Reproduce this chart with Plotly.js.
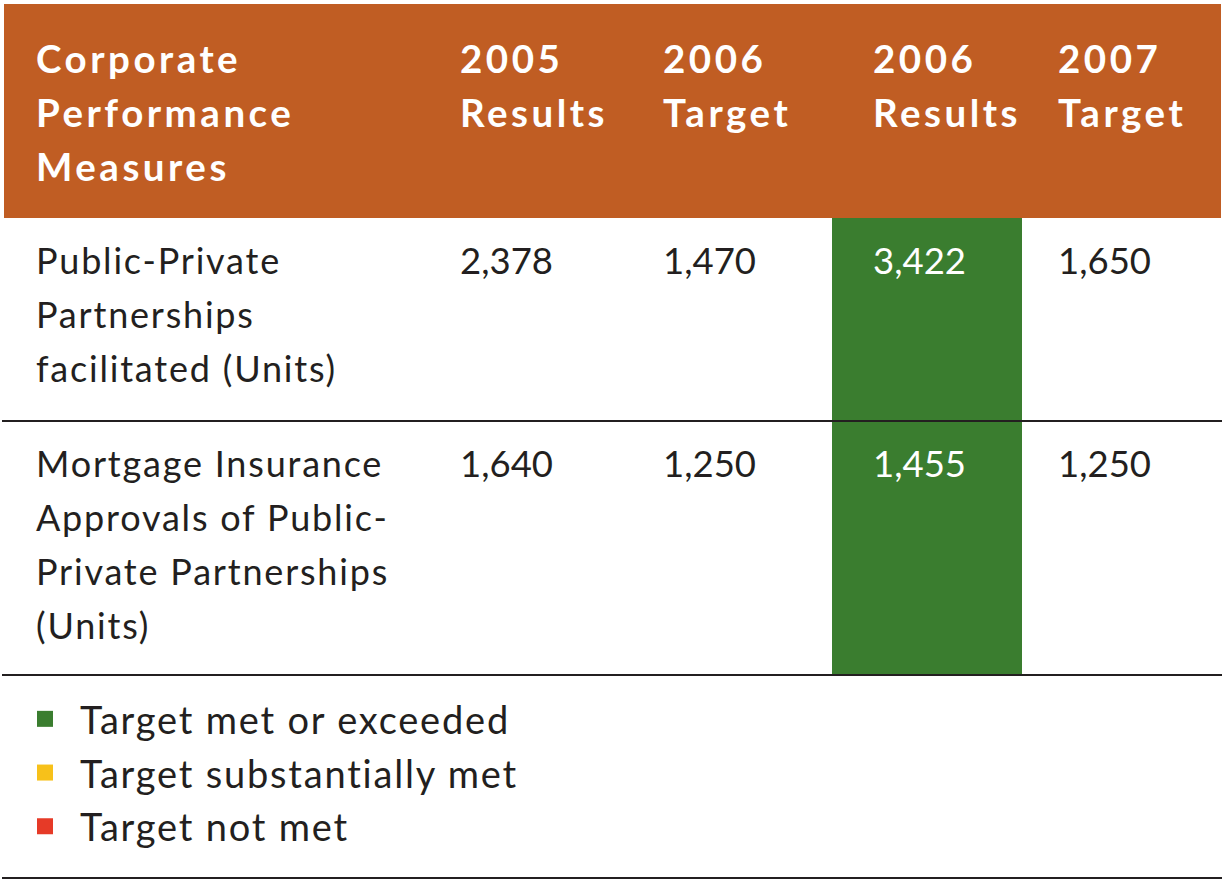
<!DOCTYPE html>
<html><head><meta charset="utf-8">
<script src="https://cdn.plot.ly/plotly-3.0.1.min.js"></script>
<style>html,body{margin:0;padding:0;background:#fff}</style>
</head><body><div id="chart" style="width:1223px;height:882px"></div>
<script>
// ---- data ----
const headerLabels = [["Corporate","Performance","Measures"],["2005","Results"],["2006","Target"],["2006","Results"],["2007","Target"]];
const measures = [["Public-Private","Partnerships","facilitated (Units)"],["Mortgage Insurance","Approvals of Public-","Private Partnerships","(Units)"]];
const results2005 = ["2,378","1,640"];
const target2006 = ["1,470","1,250"];
const results2006 = ["3,422","1,455"];
const target2007 = ["1,650","1,250"];
const status2006 = [0, 0]; // index into legendLabels
const legendLabels = ["Target met or exceeded","Target substantially met","Target not met"];

// ---- style ----
const W = 1223, H = 882;
const ORANGE = '#c05d23', INK = '#231f20', CLEAR = 'rgba(0,0,0,0)';
const statusColors = ['#3a7d2f','#f7c11a','#e63a27'];
const FONT = 'Lato';
const lineBase = 41.5;                 // sets 54px line spacing
const headerHeight = 214, rowHeights = [203, 254];
const headTop = 62, bodyTop = 48.5;    // first-line ascent struts
const nb = '\u00A0';
const strut = px => `<span style="font-size:${px}px">${nb}</span>`;
const headCell = lines => lines.map((l, i) =>
  `<span style="font-size:38.5px;letter-spacing:3.5px">${l}</span>` + (i === 0 ? strut(headTop) : '')).join('<br>');
const textCell = lines => lines.map((l, i) =>
  `<span style="font-size:36px;letter-spacing:1.8px">${l}</span>` + (i === 0 ? strut(bodyTop) : '')).join('<br>');
const numCell = v => `<span style="font-size:36.5px">${v}</span>${strut(bodyTop)}<br>`;
const heightStrut = h => `<span style="font-size:${(h - 16) / 1.2}px">${nb}</span><br>`;

// columns: spacer, measures, 2005R, 2006T, spacer(status), 2006R, spacer, 2007T
const colPx = [24, 424, 203, 177, 33, 157, 28, 171];
const nRows = measures.length;
const blank = Array(nRows).fill('');
const fillOf = c => Array(nRows).fill(c);
const statusFill = status2006.map(s => statusColors[s]);
const headerVals = ['', headCell(headerLabels[0]), headCell(headerLabels[1]), headCell(headerLabels[2]), '',
                    headCell(headerLabels[3]), '', headCell(headerLabels[4])];
const cellVals = [rowHeights.map(heightStrut), measures.map(textCell), results2005.map(numCell), target2006.map(numCell),
                  blank, results2006.map(numCell), blank, target2007.map(numCell)];
const cellFill = [fillOf('#ffffff'), fillOf('#ffffff'), fillOf('#ffffff'), fillOf('#ffffff'),
                  statusFill, statusFill, fillOf('#ffffff'), fillOf('#ffffff')];
const cellFont = [fillOf(CLEAR), fillOf(INK), fillOf(INK), fillOf(INK),
                  fillOf(CLEAR), fillOf('#ffffff'), fillOf(CLEAR), fillOf(INK)];

const table = {
  type: 'table',
  domain: {x: [4/W, 1221/W], y: [0.1, 1 - 4/H]},
  columnwidth: colPx,
  header: {values: headerVals, fill: {color: ORANGE}, align: 'left', height: headerHeight,
    font: {family: FONT, size: lineBase, color: '#ffffff', weight: 'bold'},
    line: {width: 0, color: CLEAR}},
  cells: {values: cellVals, fill: {color: cellFill}, align: 'left', height: rowHeights[0],
    font: {family: FONT, size: lineBase, color: cellFont},
    line: {width: 0, color: CLEAR}}
};

const legendTraces = legendLabels.map((name, i) => ({
  type: 'scatter', mode: 'markers', x: [null], y: [null],
  name: `<span style="font-size:38px;letter-spacing:1.8px">${name}</span>`,
  marker: {symbol: 'square', size: 16, color: statusColors[i]}, hoverinfo: 'skip'
}));

const ruleYs = [421, 675, 878];
const shapes = ruleYs.map(y => ({type: 'line', xref: 'paper', yref: 'paper', x0: 2/W, x1: 1222/W,
  y0: 1 - y/H, y1: 1 - y/H, line: {color: INK, width: 2}}));

const layout = {
  width: W, height: H, margin: {l: 0, r: 0, t: 0, b: 0},
  paper_bgcolor: '#ffffff', plot_bgcolor: CLEAR,
  font: {family: FONT, color: INK},
  xaxis: {visible: false}, yaxis: {visible: false},
  showlegend: true,
  legend: {x: 10/W, xanchor: 'left', y: 1 - 687/H, yanchor: 'top', itemwidth: 60,
    font: {family: FONT, size: 39, color: INK}, bgcolor: CLEAR, tracegroupgap: 0},
  shapes: shapes
};

Plotly.newPlot('chart', [table, ...legendTraces], layout, {displayModeBar: false, staticPlot: true});
</script>
</body></html>
